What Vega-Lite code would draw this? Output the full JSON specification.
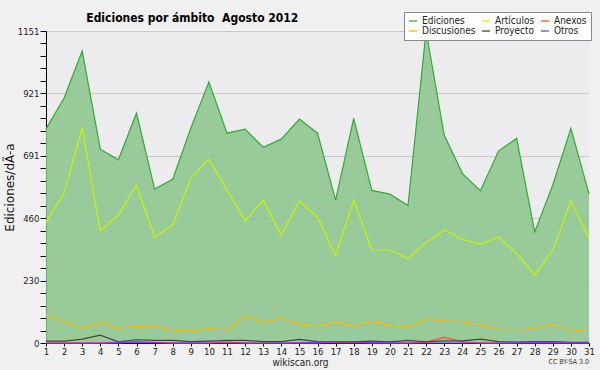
{
  "$schema": "https://vega.github.io/schema/vega-lite/v6.json",
  "width": 543,
  "height": 312,
  "autosize": "none",
  "padding": {"left": 46, "top": 31, "right": 11, "bottom": 27},
  "background": "#f0f0f0",
  "title": {"text": "Ediciones por ámbito\u00a0 Agosto 2012", "anchor": "start", "dx": 83, "dy": 22, "offset": 9, "font": "DejaVu Sans Condensed", "fontSize": 12, "fontWeight": "bold", "color": "#000"},
  "data": {"values": [
    {"d": 1, "Ediciones": 790, "Artículos": 444, "Anexos": 0, "Discusiones": 105, "Proyecto": 7, "Otros": 0},
    {"d": 2, "Ediciones": 904, "Artículos": 554, "Anexos": 0, "Discusiones": 81, "Proyecto": 7, "Otros": 0},
    {"d": 3, "Ediciones": 1077, "Artículos": 794, "Anexos": 0, "Discusiones": 54, "Proyecto": 14, "Otros": 0},
    {"d": 4, "Ediciones": 715, "Artículos": 413, "Anexos": 0, "Discusiones": 77, "Proyecto": 29, "Otros": 0},
    {"d": 5, "Ediciones": 676, "Artículos": 472, "Anexos": 0, "Discusiones": 54, "Proyecto": 4, "Otros": 2},
    {"d": 6, "Ediciones": 848, "Artículos": 583, "Anexos": 4, "Discusiones": 62, "Proyecto": 12, "Otros": 3},
    {"d": 7, "Ediciones": 568, "Artículos": 390, "Anexos": 2, "Discusiones": 62, "Proyecto": 10, "Otros": 1},
    {"d": 8, "Ediciones": 604, "Artículos": 435, "Anexos": 0, "Discusiones": 48, "Proyecto": 10, "Otros": 0},
    {"d": 9, "Ediciones": 792, "Artículos": 607, "Anexos": 0, "Discusiones": 44, "Proyecto": 5, "Otros": 1},
    {"d": 10, "Ediciones": 963, "Artículos": 678, "Anexos": 0, "Discusiones": 54, "Proyecto": 7, "Otros": 0},
    {"d": 11, "Ediciones": 774, "Artículos": 564, "Anexos": 4, "Discusiones": 48, "Proyecto": 10, "Otros": 0},
    {"d": 12, "Ediciones": 789, "Artículos": 451, "Anexos": 0, "Discusiones": 100, "Proyecto": 10, "Otros": 0},
    {"d": 13, "Ediciones": 722, "Artículos": 527, "Anexos": 0, "Discusiones": 77, "Proyecto": 5, "Otros": 0},
    {"d": 14, "Ediciones": 752, "Artículos": 398, "Anexos": 0, "Discusiones": 91, "Proyecto": 5, "Otros": 0},
    {"d": 15, "Ediciones": 826, "Artículos": 524, "Anexos": 0, "Discusiones": 70, "Proyecto": 13, "Otros": 1},
    {"d": 16, "Ediciones": 774, "Artículos": 464, "Anexos": 0, "Discusiones": 63, "Proyecto": 5, "Otros": 2},
    {"d": 17, "Ediciones": 527, "Artículos": 322, "Anexos": 3, "Discusiones": 76, "Proyecto": 4, "Otros": 0},
    {"d": 18, "Ediciones": 829, "Artículos": 527, "Anexos": 2, "Discusiones": 63, "Proyecto": 4, "Otros": 0},
    {"d": 19, "Ediciones": 563, "Artículos": 343, "Anexos": 0, "Discusiones": 80, "Proyecto": 7, "Otros": 2},
    {"d": 20, "Ediciones": 549, "Artículos": 343, "Anexos": 0, "Discusiones": 66, "Proyecto": 4, "Otros": 1},
    {"d": 21, "Ediciones": 507, "Artículos": 312, "Anexos": 0, "Discusiones": 60, "Proyecto": 10, "Otros": 0},
    {"d": 22, "Ediciones": 1151, "Artículos": 370, "Anexos": 3, "Discusiones": 87, "Proyecto": 4, "Otros": 0},
    {"d": 23, "Ediciones": 767, "Artículos": 417, "Anexos": 21, "Discusiones": 82, "Proyecto": 8, "Otros": 0},
    {"d": 24, "Ediciones": 626, "Artículos": 383, "Anexos": 5, "Discusiones": 79, "Proyecto": 8, "Otros": 0},
    {"d": 25, "Ediciones": 562, "Artículos": 364, "Anexos": 0, "Discusiones": 69, "Proyecto": 14, "Otros": 0},
    {"d": 26, "Ediciones": 708, "Artículos": 390, "Anexos": 0, "Discusiones": 51, "Proyecto": 5, "Otros": 0},
    {"d": 27, "Ediciones": 755, "Artículos": 331, "Anexos": 0, "Discusiones": 48, "Proyecto": 3, "Otros": 1},
    {"d": 28, "Ediciones": 410, "Artículos": 251, "Anexos": 0, "Discusiones": 54, "Proyecto": 5, "Otros": 3},
    {"d": 29, "Ediciones": 583, "Artículos": 341, "Anexos": 0, "Discusiones": 70, "Proyecto": 5, "Otros": 2},
    {"d": 30, "Ediciones": 792, "Artículos": 524, "Anexos": 0, "Discusiones": 48, "Proyecto": 2, "Otros": 1},
    {"d": 31, "Ediciones": 550, "Artículos": 386, "Anexos": 0, "Discusiones": 43, "Proyecto": 2, "Otros": 0}
  ]},
  "layer": [
    {
      "mark": {"type": "area", "color": "#8ac68a", "opacity": 0.85},
      "encoding": {
        "x": {"field": "d", "type": "quantitative", "scale": {"domain": [1, 31], "nice": false, "zero": false},
          "axis": {"values": [1,2,3,4,5,6,7,8,9,10,11,12,13,14,15,16,17,18,19,20,21,22,23,24,25,26,27,28,29,30,31],
            "format": "d", "tickCount": 60, "labelOverlap": false,
            "grid": false, "domainColor": "#000", "tickColor": "#000", "tickSize": 3, "labelPadding": 0,
            "labelFont": "DejaVu Sans Condensed", "labelFontSize": 9.5, "labelColor": "#222", "labelFlush": false,
            "title": "wikiscan.org", "titleFont": "DejaVu Sans Condensed", "titleFontSize": 10, "titleFontWeight": "normal",
            "titleColor": "#222", "titlePadding": 2, "titleX": 254}},
        "y": {"field": "Ediciones", "type": "quantitative", "scale": {"domain": [0, 1151], "nice": false},
          "axis": {"values": [0, 46.04, 92.08, 138.12, 184.16, 230.2, 276.24, 322.28, 368.32, 414.36, 460.4, 506.44, 552.48, 598.52, 644.56, 690.6, 736.64, 782.68, 828.72, 874.76, 920.8, 966.84, 1012.88, 1058.92, 1104.96, 1151],
            "tickCount": 60, "labelOverlap": false,
            "labelExpr": "abs(datum.value/230.2 - round(datum.value/230.2)) < 0.01 ? format(datum.value, '.0f') : ''",
            "grid": true, "gridColor": "#c8c8c8",
            "gridOpacity": {"condition": {"test": "abs(datum.value/230.2 - round(datum.value/230.2)) < 0.01", "value": 1}, "value": 0},
            "domainColor": "#000", "tickColor": "#000", "tickSize": 6, "labelPadding": 1,
            "labelFont": "DejaVu Sans Condensed", "labelFontSize": 9.5, "labelColor": "#222",
            "title": "Ediciones/dÃ-a", "titleFont": "DejaVu Sans", "titleFontSize": 12, "titleFontWeight": "normal",
            "titleColor": "#111", "titlePadding": 1}}
      }
    },
    {
      "transform": [{"fold": ["Ediciones", "Artículos", "Anexos", "Discusiones", "Proyecto", "Otros"], "as": ["serie", "valor"]}],
      "mark": {"type": "line", "strokeWidth": 1.2},
      "encoding": {
        "x": {"field": "d", "type": "quantitative"},
        "y": {"field": "valor", "type": "quantitative"},
        "color": {"field": "serie", "type": "nominal",
          "scale": {"domain": ["Ediciones", "Discusiones", "Artículos", "Proyecto", "Anexos", "Otros"],
                    "range": ["#33aa33", "#ffbb00", "#c8f500", "#3d4a3d", "#ff5511", "#8833ff"]},
          "legend": {"orient": "none", "legendX": 358, "legendY": -19, "columns": 3, "title": null,
            "fillColor": "#ffffff", "strokeColor": "#888888", "padding": 4,
            "symbolType": "stroke", "symbolSize": 64, "symbolStrokeWidth": 1.3,
            "labelFont": "DejaVu Sans Condensed", "labelFontSize": 10, "labelColor": "#222",
            "rowPadding": 0, "columnPadding": 3, "labelOffset": 4}}
      }
    },
    {
      "data": {"values": [{"d": 31, "v": 0, "nota": "CC BY-SA 3.0"}]},
      "mark": {"type": "text", "align": "right", "baseline": "middle", "dy": 19, "fontSize": 7, "font": "DejaVu Sans Condensed", "color": "#333"},
      "encoding": {"x": {"field": "d", "type": "quantitative"}, "y": {"field": "v", "type": "quantitative"}, "text": {"field": "nota"}}
    }
  ],
  "config": {"view": {"fill": "#ececee", "stroke": null}}
}
